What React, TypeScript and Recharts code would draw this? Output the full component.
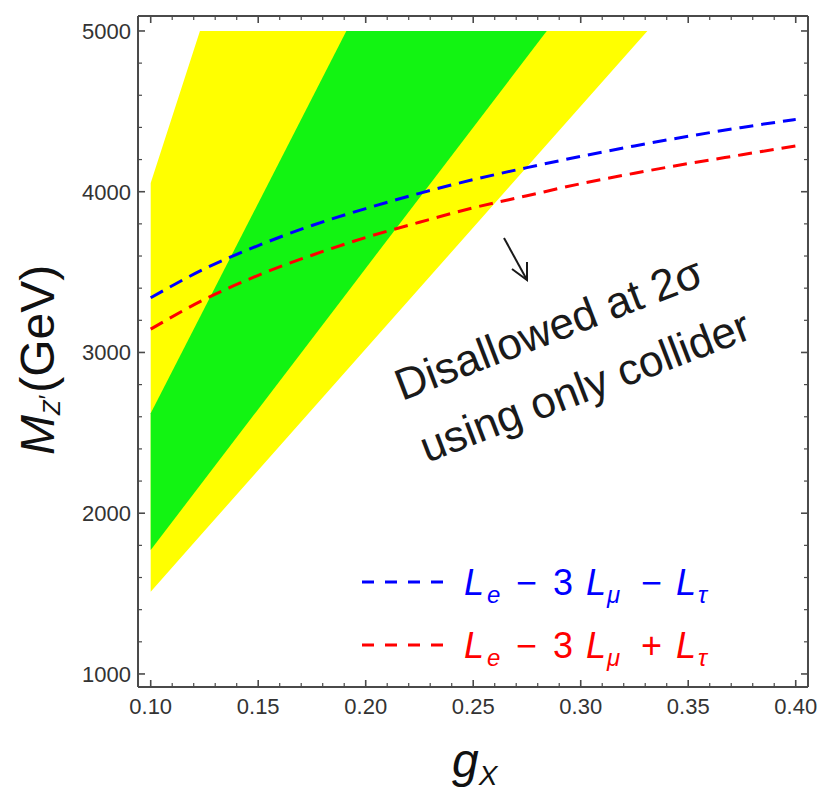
import { Area, ComposedChart, Line, XAxis, YAxis } from "recharts";

const FONT = '"Liberation Sans", Arial, Helvetica, sans-serif';

// coupling values where the two mass curves were read
const gxGrid = [0.1, 0.125, 0.15, 0.175, 0.2, 0.225, 0.25, 0.275, 0.3, 0.325, 0.35, 0.375, 0.4];
const massBlue = [3340, 3520, 3665, 3790, 3895, 3990, 4075, 4150, 4220, 4285, 4345, 4400, 4450];
const massRed = [3145, 3330, 3480, 3605, 3715, 3810, 3900, 3975, 4050, 4115, 4175, 4230, 4285];

// 2 sigma (yellow) and 1 sigma (green) bands: corners of each band
const yellowX = [0.1, 0.1229, 0.331];
const yellowLow = [1512, 1858, 5000];
const yellowHigh = [4054, 5000, 5000];
const greenX = [0.1, 0.191, 0.2842];
const greenLow = [1771, 3366, 5000];
const greenHigh = [2622, 5000, 5000];

const xMajor = [0.1, 0.15, 0.2, 0.25, 0.3, 0.35, 0.4];
const xMinor = [
  0.11, 0.12, 0.13, 0.14, 0.16, 0.17, 0.18, 0.19, 0.21, 0.22, 0.23, 0.24, 0.26, 0.27, 0.28, 0.29,
  0.31, 0.32, 0.33, 0.34, 0.36, 0.37, 0.38, 0.39,
];
const yMajor = [1000, 2000, 3000, 4000, 5000];
const yMinor = [
  1200, 1400, 1600, 1800, 2200, 2400, 2600, 2800, 3200, 3400, 3600, 3800, 4200, 4400, 4600, 4800,
];

const yellowData = yellowX.map((g, i) => ({ g, band: [yellowLow[i], yellowHigh[i]] }));
const greenData = greenX.map((g, i) => ({ g, band: [greenLow[i], greenHigh[i]] }));
const blueData = gxGrid.map((g, i) => ({ g, m: massBlue[i] }));
const redData = gxGrid.map((g, i) => ({ g, m: massRed[i] }));

const X_DOMAIN = [0.0941, 0.4057];
const Y_DOMAIN = [919, 5093];
const FRAME = "#4a4a4a";
const THIN = 0.01; // axes of zero size are not drawn by recharts
const frameLine = { stroke: FRAME, strokeWidth: 2 };

type Side = "bottom" | "top" | "left" | "right";

// tick mark pointing into the plot, optionally with its label outside
const makeTick = (side: Side, len: number, label: boolean) => (props: any) => {
  const { x, y, payload } = props;
  const dx = side === "left" ? len : side === "right" ? -len : 0;
  const dy = side === "bottom" ? -len : side === "top" ? len : 0;
  return (
    <g>
      <line x1={x} y1={y} x2={x + dx} y2={y + dy} stroke={FRAME} strokeWidth={len > 5 ? 1.6 : 1.2} />
      {label && side === "bottom" && (
        <text x={x} y={y + 27} textAnchor="middle" fontSize={22} fill="#333" fontFamily={FONT}>
          {Number(payload.value).toFixed(2)}
        </text>
      )}
      {label && side === "left" && (
        <text x={x - 7} y={y + 8} textAnchor="end" fontSize={22} fill="#333" fontFamily={FONT}>
          {payload.value}
        </text>
      )}
    </g>
  );
};

const xAxes = [
  { id: "main", orientation: "bottom", ticks: xMajor, len: 7, label: true, line: true },
  { id: "bMin", orientation: "bottom", ticks: xMinor, len: 4, label: false, line: false },
  { id: "top", orientation: "top", ticks: xMajor, len: 7, label: false, line: true },
  { id: "tMin", orientation: "top", ticks: xMinor, len: 4, label: false, line: false },
];
const yAxes = [
  { id: "main", orientation: "left", ticks: yMajor, len: 7, label: true, line: true },
  { id: "lMin", orientation: "left", ticks: yMinor, len: 4, label: false, line: false },
  { id: "right", orientation: "right", ticks: yMajor, len: 7, label: false, line: true },
  { id: "rMin", orientation: "right", ticks: yMinor, len: 4, label: false, line: false },
];

function LegendRow({ color, y, sign }: { color: string; y: number; sign: string }) {
  return (
    <g fill={color} fontFamily={FONT}>
      <line x1={362} x2={450} y1={y - 13} y2={y - 13} stroke={color} strokeWidth={3} strokeDasharray="12 11" />
      <text y={y} fontSize={36}>
        <tspan x={464} fontStyle="italic">L</tspan>
        <tspan x={487} fontSize={24} fontStyle="italic" dy={8}>e</tspan>
        <tspan x={516} dy={-8}>−</tspan>
        <tspan x={553}>3</tspan>
        <tspan x={586} fontStyle="italic">L</tspan>
        <tspan x={607} fontSize={24} fontStyle="italic" dy={8}>μ</tspan>
        <tspan x={641} dy={-8}>{sign}</tspan>
        <tspan x={676} fontStyle="italic">L</tspan>
        <tspan x={698} fontSize={24} fontStyle="italic" dy={8}>τ</tspan>
      </text>
    </g>
  );
}

export default function App() {
  return (
    <div style={{ position: "relative", width: 819, height: 790, background: "#fff" }}>
      <style>{"body{margin:0}"}</style>
      <ComposedChart
        width={819}
        height={790}
        margin={{ top: 16, right: 11, bottom: 103, left: 138 }}
      >
        {xAxes.map((a) => (
          <XAxis
            key={a.id}
            xAxisId={a.id}
            orientation={a.orientation as "top" | "bottom"}
            dataKey="g"
            type="number"
            domain={X_DOMAIN}
            ticks={a.ticks}
            interval={0}
            height={THIN}
            tickSize={0}
            tickMargin={0}
            tick={makeTick(a.orientation as Side, a.len, a.label)}
            tickLine={false}
            axisLine={a.line ? frameLine : false}
            allowDataOverflow
          />
        ))}
        {yAxes.map((a) => (
          <YAxis
            key={a.id}
            yAxisId={a.id}
            orientation={a.orientation as "left" | "right"}
            type="number"
            domain={Y_DOMAIN}
            ticks={a.ticks}
            interval={0}
            width={THIN}
            tickSize={0}
            tickMargin={0}
            tick={makeTick(a.orientation as Side, a.len, a.label)}
            tickLine={false}
            axisLine={a.line ? frameLine : false}
            allowDataOverflow
          />
        ))}

        <Area
          xAxisId="main"
          yAxisId="main"
          data={yellowData}
          dataKey="band"
          type="linear"
          fill="#ffff00"
          fillOpacity={1}
          stroke="none"
          isAnimationActive={false}
        />
        <Area
          xAxisId="main"
          yAxisId="main"
          data={greenData}
          dataKey="band"
          type="linear"
          fill="#12f412"
          fillOpacity={1}
          stroke="none"
          isAnimationActive={false}
        />
        <Line
          xAxisId="main"
          yAxisId="main"
          data={blueData}
          dataKey="m"
          type="monotone"
          stroke="#0000ff"
          strokeWidth={3}
          strokeDasharray="14 8"
          dot={false}
          isAnimationActive={false}
        />
        <Line
          xAxisId="main"
          yAxisId="main"
          data={redData}
          dataKey="m"
          type="monotone"
          stroke="#ff0000"
          strokeWidth={3}
          strokeDasharray="14 8"
          dot={false}
          isAnimationActive={false}
        />
      </ComposedChart>

      <svg
        width={819}
        height={790}
        style={{ position: "absolute", left: 0, top: 0, pointerEvents: "none" }}
      >
        <text transform="rotate(-90)" x={-455} y={54} fontFamily={FONT} fill="#111">
          <tspan fontSize={48} fontStyle="italic">M</tspan>
          <tspan fontSize={24} fontStyle="italic" dy={6}>Z</tspan>
          <tspan fontSize={24} dy={-4} dx={1}>′</tspan>
          <tspan fontSize={48} dy={-2} dx={2}>(GeV)</tspan>
        </text>
        <text x={452} y={777} fontFamily={FONT} fill="#111">
          <tspan fontSize={48} fontStyle="italic">g</tspan>
          <tspan fontSize={28} fontStyle="italic" dy={8}>X</tspan>
        </text>

        <g stroke="#1a1a1a" strokeWidth={2} fill="none">
          <line x1={504} y1={238} x2={527} y2={280} />
          <polyline points="512,269 527,280 527,262" />
        </g>
        <g fontFamily={FONT} fontSize={44} fill="#1a1a1a">
          <text x={402} y={401} transform="rotate(-21 402 401)">Disallowed at 2σ</text>
          <text x={427} y={463} transform="rotate(-21 427 463)">using only collider</text>
        </g>

        <LegendRow color="#0000ff" y={595} sign="−" />
        <LegendRow color="#ff0000" y={658} sign="+" />
      </svg>
    </div>
  );
}
